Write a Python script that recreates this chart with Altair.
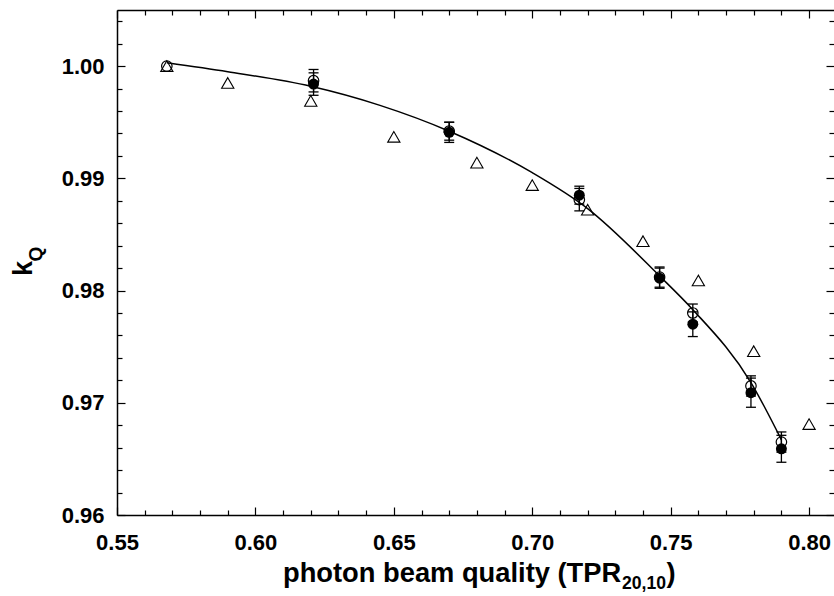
import altair as alt
import pandas as pd

# ---------------- data ----------------
tri_x = [0.568, 0.59, 0.62, 0.65, 0.68, 0.70, 0.72, 0.74, 0.76, 0.78, 0.80]
tri_y = [1.0000, 0.9985, 0.9969, 0.9937, 0.9914, 0.9894, 0.9872, 0.9844, 0.9809, 0.9746, 0.9681]

open_x = [0.568, 0.621, 0.67, 0.717, 0.746, 0.758, 0.779, 0.79]
open_y = [1.0000, 0.9987, 0.9942, 0.9881, 0.9812, 0.9780, 0.9715, 0.9665]
open_err = [0.0, 0.0010, 0.0008, 0.0010, 0.0009, 0.0008, 0.0009, 0.0009]

fill_x = [0.621, 0.67, 0.717, 0.746, 0.758, 0.779, 0.79]
fill_y = [0.9984, 0.9941, 0.9885, 0.9811, 0.9770, 0.9709, 0.9659]
fill_err = [0.0010, 0.0009, 0.0008, 0.0009, 0.0011, 0.0013, 0.0012]

fit_x = [0.568, 0.59, 0.62, 0.645, 0.67, 0.70, 0.72, 0.746, 0.758, 0.779, 0.79]
fit_y = [1.0003, 0.9995, 0.9982, 0.9965, 0.9942, 0.9905, 0.9873, 0.9813, 0.9783, 0.9718, 0.9667]

x_major = [0.55, 0.60, 0.65, 0.70, 0.75, 0.80]
x_ticks = [0.55, 0.56, 0.57, 0.58, 0.59, 0.60, 0.61, 0.62, 0.63, 0.64, 0.65, 0.66, 0.67,
           0.68, 0.69, 0.70, 0.71, 0.72, 0.73, 0.74, 0.75, 0.76, 0.77, 0.78, 0.79, 0.80]
y_major = [0.96, 0.97, 0.98, 0.99, 1.00]
y_ticks = [0.960, 0.962, 0.964, 0.966, 0.968, 0.970, 0.972, 0.974, 0.976, 0.978, 0.980,
           0.982, 0.984, 0.986, 0.988, 0.990, 0.992, 0.994, 0.996, 0.998, 1.000, 1.002, 1.004]

x_title = "photon beam quality (TPR"
x_title_sub = "20,10"
x_title_end = ")"
y_title = "k"
y_title_sub = "Q"

# ---------------- tables ----------------
tri_df = pd.DataFrame({"x": tri_x, "y": tri_y})
fit_df = pd.DataFrame({"x": fit_x, "y": fit_y})
open_df = pd.DataFrame({"x": open_x, "y": open_y, "err": open_err})
open_df["lo"] = open_df["y"] - open_df["err"]
open_df["hi"] = open_df["y"] + open_df["err"]
open_eb = open_df[open_df["err"] > 0]
fill_df = pd.DataFrame({"x": fill_x, "y": fill_y, "err": fill_err})
fill_df["lo"] = fill_df["y"] - fill_df["err"]
fill_df["hi"] = fill_df["y"] + fill_df["err"]

caps = pd.concat([
    pd.DataFrame({"x": open_eb["x"], "c": open_eb["lo"]}),
    pd.DataFrame({"x": open_eb["x"], "c": open_eb["hi"]}),
    pd.DataFrame({"x": fill_df["x"], "c": fill_df["lo"]}),
    pd.DataFrame({"x": fill_df["x"], "c": fill_df["hi"]}),
], ignore_index=True)
bars = pd.concat([open_eb[["x", "lo", "hi"]], fill_df[["x", "lo", "hi"]]], ignore_index=True)

# ---------------- layout ----------------
W, H = 717, 505
FONT = "Liberation Sans"

def xs():
    return alt.Scale(domain=[0.55, 0.809], nice=False, zero=False)

def ys():
    return alt.Scale(domain=[0.96, 1.005], nice=False, zero=False)

x_cond = {"condition": {"test": "abs(datum.value*20 - round(datum.value*20)) < 0.01", "value": 8}, "value": 5}
y_cond = {"condition": {"test": "abs(datum.value*100 - round(datum.value*100)) < 0.01", "value": 8}, "value": 5}

ax_x_lab = alt.Axis(orient="bottom", values=x_major, format=".2f", ticks=False, domain=True,
                    domainColor="black", domainWidth=1.5, labelFont=FONT, labelFontSize=22,
                    labelFontWeight="bold", labelColor="black", labelPadding=17,
                    labelFlush=False, grid=False, title=None)
ax_x_bot = alt.Axis(orient="top", offset=-H, values=x_ticks, labels=False, domain=False,
                    ticks=True, tickColor="black", tickWidth=1.2, tickSize=x_cond,
                    grid=False, title=None)
ax_x_top = alt.Axis(orient="bottom", offset=-H, values=x_ticks, labels=False, domain=True,
                    domainColor="black", domainWidth=1.5,
                    ticks=True, tickColor="black", tickWidth=1.2, tickSize=x_cond,
                    grid=False, title=None)

ax_y_lab = alt.Axis(orient="left", values=y_major, format=".2f", ticks=False, domain=True,
                    domainColor="black", domainWidth=1.5, labelFont=FONT, labelFontSize=22,
                    labelFontWeight="bold", labelColor="black", labelPadding=13,
                    labelFlush=False, grid=False, title=None)
ax_y_left = alt.Axis(orient="right", offset=-W, values=y_ticks, labels=False, domain=False,
                     ticks=True, tickColor="black", tickWidth=1.2, tickSize=y_cond,
                     grid=False, title=None)
ax_y_right = alt.Axis(orient="left", offset=-W, values=y_ticks, labels=False, domain=False,
                      ticks=True, tickColor="black", tickWidth=1.2, tickSize=y_cond,
                      grid=False, title=None)

fit = alt.Chart(fit_df).mark_line(color="black", strokeWidth=1.5, interpolate="monotone").encode(
    x=alt.X("x:Q", scale=xs(), axis=ax_x_lab),
    y=alt.Y("y:Q", scale=ys(), axis=ax_y_lab),
)

tri = alt.Chart(tri_df).mark_point(shape="triangle-up", filled=False, size=150, color="black",
                                   strokeWidth=1.1, opacity=1).encode(
    x=alt.X("x:Q", scale=xs(), axis=ax_x_bot),
    y=alt.Y("y:Q", scale=ys(), axis=ax_y_left),
)

eb = alt.Chart(bars).mark_rule(color="black", strokeWidth=1.3).encode(
    x=alt.X("x:Q", scale=xs(), axis=None),
    y=alt.Y("lo:Q", scale=ys(), axis=None),
    y2="hi:Q",
)

cap = alt.Chart(caps).mark_tick(orient="horizontal", size=10, thickness=1.3, color="black", opacity=1).encode(
    x=alt.X("x:Q", scale=xs(), axis=None),
    y=alt.Y("c:Q", scale=ys(), axis=None),
)

opn = alt.Chart(open_df).mark_point(shape="circle", filled=False, size=110, color="black",
                                    strokeWidth=1.2, opacity=1).encode(
    x=alt.X("x:Q", scale=xs(), axis=ax_x_top),
    y=alt.Y("y:Q", scale=ys(), axis=ax_y_right),
)

fil = alt.Chart(fill_df).mark_point(shape="circle", filled=True, size=120, color="black", opacity=1).encode(
    x=alt.X("x:Q", scale=xs(), axis=None),
    y=alt.Y("y:Q", scale=ys(), axis=None),
)

def label(txt, px, py, size, angle=0):
    return alt.Chart(pd.DataFrame({"t": [txt]})).mark_text(
        font=FONT, fontWeight="bold", fontSize=size, align="left", baseline="alphabetic",
        angle=angle, color="black"
    ).encode(text="t:N", x=alt.value(px), y=alt.value(py))

t1 = label(x_title, 166, 572, 27.3)
t2 = label(x_title_sub, 505, 579, 17.6)
t3 = label(x_title_end, 549.5, 572, 27.3)
t4 = label(y_title, -85.3, 266, 27, angle=270)
t5 = label(y_title_sub, -75, 251.5, 19, angle=270)

chart = alt.layer(fit, tri, eb, cap, opn, fil, t1, t2, t3, t4, t5).resolve_scale(
    x="independent", y="independent"
).properties(
    width=W, height=H,
    padding={"left": 117, "top": 10, "right": 0, "bottom": 81},
    autosize=alt.AutoSizeParams(type="none"),
    background="white",
).configure_view(strokeOpacity=0)

chart.save("out.html", embed_options={"renderer": "svg", "actions": False})
